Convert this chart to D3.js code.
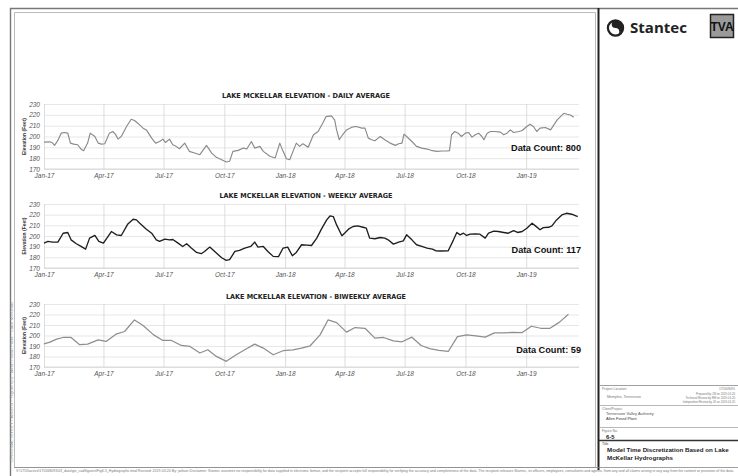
<!DOCTYPE html>
<html>
<head>
<meta charset="utf-8">
<script src="https://cdn.jsdelivr.net/npm/d3@7"></script>
<style>
  body { margin: 0; background: #fff; }
  svg { display: block; }
</style>
</head>
<body>
<svg id="sheet" width="738" height="476"></svg>
<script>
// ---- Lake McKellar elevation (ft), three averaging intervals ----
const dailyDates = ["2017-01-01","2017-01-10","2017-01-14","2017-01-17","2017-01-22","2017-01-27","2017-02-01","2017-02-06","2017-02-10","2017-02-15","2017-02-21","2017-02-26","2017-03-02","2017-03-08","2017-03-12","2017-03-19","2017-03-24","2017-03-29","2017-04-03","2017-04-10","2017-04-15","2017-04-19","2017-04-23","2017-04-28","2017-05-06","2017-05-13","2017-05-18","2017-05-23","2017-05-31","2017-06-05","2017-06-13","2017-06-19","2017-06-25","2017-06-30","2017-07-04","2017-07-10","2017-07-15","2017-07-20","2017-07-25","2017-08-02","2017-08-09","2017-08-17","2017-08-25","2017-09-04","2017-09-12","2017-09-19","2017-09-27","2017-10-04","2017-10-09","2017-10-14","2017-10-22","2017-10-30","2017-11-04","2017-11-11","2017-11-16","2017-11-24","2017-11-29","2017-12-09","2017-12-17","2017-12-24","2017-12-29","2018-01-03","2018-01-08","2018-01-13","2018-01-18","2018-01-23","2018-01-28","2018-02-05","2018-02-13","2018-02-20","2018-02-27","2018-03-04","2018-03-12","2018-03-17","2018-03-20","2018-03-24","2018-03-29","2018-04-04","2018-04-12","2018-04-19","2018-04-27","2018-05-02","2018-05-07","2018-05-12","2018-05-17","2018-05-22","2018-05-25","2018-06-01","2018-06-09","2018-06-17","2018-06-22","2018-06-27","2018-06-30","2018-07-04","2018-07-12","2018-07-19","2018-07-27","2018-08-04","2018-08-12","2018-08-19","2018-08-27","2018-09-03","2018-09-07","2018-09-10","2018-09-15","2018-09-20","2018-09-25","2018-10-01","2018-10-06","2018-10-11","2018-10-16","2018-10-21","2018-10-26","2018-10-29","2018-11-03","2018-11-08","2018-11-15","2018-11-23","2018-11-28","2018-12-03","2018-12-08","2018-12-13","2018-12-21","2018-12-26","2019-01-02","2019-01-07","2019-01-12","2019-01-17","2019-01-22","2019-01-30","2019-02-07","2019-02-12","2019-02-17","2019-02-22","2019-02-27","2019-03-04","2019-03-09","2019-03-14"];
const dailyElev = [194.8,195.1,193.9,191.8,196.4,203.1,203.7,203.1,193.9,193.0,192.4,188.4,186.9,193.9,203.1,200.0,193.9,193.0,193.3,203.1,204.6,202.2,197.6,200.0,209.2,215.9,214.7,212.3,207.7,206.1,198.5,193.9,195.4,197.6,194.5,197.6,192.4,190.9,188.7,193.9,186.3,184.7,183.2,191.8,184.7,180.8,178.6,176.5,177.1,186.3,187.2,189.3,188.4,195.4,189.3,190.9,186.3,181.7,180.2,193.9,186.3,179.5,178.6,186.3,193.9,190.9,193.3,190.0,201.6,204.6,212.3,218.4,219.0,215.3,206.1,197.0,201.6,206.1,208.6,209.2,207.7,207.7,198.5,197.0,196.1,198.5,200.0,197.0,193.9,191.8,193.3,193.9,202.2,200.0,195.4,190.9,189.3,188.4,186.9,186.3,186.6,186.6,186.9,201.6,204.6,203.1,200.0,203.1,203.7,199.4,201.6,203.1,200.0,197.0,203.1,204.6,204.6,204.0,201.6,203.1,206.1,203.7,204.6,205.5,209.2,211.3,209.2,204.6,207.7,208.3,206.1,210.7,215.3,218.4,221.4,220.5,219.9,217.8];

const weeklyDates = ["2017-01-01","2017-01-07","2017-01-14","2017-01-22","2017-01-30","2017-02-06","2017-02-11","2017-02-19","2017-02-26","2017-03-05","2017-03-11","2017-03-19","2017-03-25","2017-04-01","2017-04-13","2017-04-21","2017-04-28","2017-05-08","2017-05-16","2017-05-21","2017-05-26","2017-06-05","2017-06-13","2017-06-20","2017-06-25","2017-07-03","2017-07-10","2017-07-15","2017-07-23","2017-07-30","2017-08-05","2017-08-12","2017-08-20","2017-08-27","2017-09-01","2017-09-09","2017-09-19","2017-09-27","2017-10-04","2017-10-09","2017-10-17","2017-10-24","2017-11-01","2017-11-10","2017-11-16","2017-11-21","2017-11-29","2017-12-06","2017-12-14","2017-12-22","2017-12-29","2018-01-05","2018-01-12","2018-01-18","2018-01-26","2018-02-03","2018-02-10","2018-02-18","2018-02-25","2018-03-05","2018-03-10","2018-03-15","2018-03-20","2018-03-28","2018-04-01","2018-04-07","2018-04-14","2018-04-21","2018-04-29","2018-05-04","2018-05-09","2018-05-17","2018-05-25","2018-06-01","2018-06-06","2018-06-14","2018-06-22","2018-06-29","2018-07-04","2018-07-12","2018-07-19","2018-07-27","2018-08-04","2018-08-12","2018-08-17","2018-08-24","2018-09-05","2018-09-13","2018-09-18","2018-09-23","2018-09-28","2018-10-03","2018-10-08","2018-10-16","2018-10-23","2018-10-31","2018-11-05","2018-11-13","2018-11-20","2018-11-28","2018-12-05","2018-12-13","2018-12-19","2018-12-26","2019-01-02","2019-01-10","2019-01-15","2019-01-22","2019-01-27","2019-02-04","2019-02-09","2019-02-16","2019-02-24","2019-03-03","2019-03-11","2019-03-20"];
const weeklyElev = [193.3,194.9,194.3,194.3,202.6,203.3,196.4,192.7,190.2,187.7,198.0,200.5,194.9,193.3,204.2,201.1,200.5,211.3,215.7,215.1,212.0,206.4,202.6,196.4,194.9,197.0,196.4,196.7,193.3,190.2,192.7,188.7,184.6,183.4,185.5,189.6,184.0,179.6,177.2,177.8,185.5,186.5,188.7,190.2,194.3,189.6,190.2,185.5,180.9,180.6,188.7,189.6,181.5,184.6,191.8,191.5,191.1,198.0,206.4,215.1,218.8,218.2,210.4,200.2,202.6,206.4,208.9,209.5,208.2,207.3,198.0,197.4,198.6,198.0,196.4,192.4,194.3,195.5,201.1,196.4,191.8,190.2,188.7,187.7,186.2,185.9,186.2,196.4,203.3,201.1,202.6,200.5,201.7,202.0,201.7,198.0,202.6,204.5,204.2,203.3,202.6,205.1,203.3,204.2,207.3,212.0,209.5,205.8,207.9,208.2,209.5,215.1,219.7,221.3,220.4,218.2];

const biweeklyDates = ["2017-01-01","2017-01-10","2017-01-20","2017-01-30","2017-02-11","2017-02-24","2017-03-08","2017-03-24","2017-04-05","2017-04-20","2017-05-03","2017-05-18","2017-05-31","2017-06-16","2017-06-30","2017-07-13","2017-07-28","2017-08-10","2017-08-25","2017-09-06","2017-09-19","2017-10-04","2017-10-19","2017-11-01","2017-11-16","2017-11-29","2017-12-14","2017-12-29","2018-01-13","2018-01-26","2018-02-08","2018-02-23","2018-03-07","2018-03-20","2018-04-04","2018-04-17","2018-05-02","2018-05-17","2018-05-30","2018-06-14","2018-06-27","2018-07-12","2018-07-26","2018-08-08","2018-08-22","2018-09-05","2018-09-19","2018-10-03","2018-10-17","2018-10-31","2018-11-14","2018-11-28","2018-12-12","2018-12-26","2019-01-09","2019-01-23","2019-02-06","2019-02-20","2019-03-06"];
const biweeklyElev = [192.1,193.7,196.5,198.1,198.1,191.2,191.8,195.9,194.3,201.3,203.8,214.8,209.5,200.6,195.3,195.3,190.5,189.6,183.3,186.4,180.1,175.4,181.7,186.4,191.8,188.0,181.7,185.5,186.4,188.0,190.2,200.6,214.8,212.3,203.2,207.6,206.9,197.5,198.1,194.9,194.0,198.4,190.5,187.5,185.8,184.8,199.0,200.6,199.7,198.4,202.5,202.5,203.0,202.8,208.8,206.9,206.9,212.5,220.2];

// axis ticks
const quarterTicks = ["2017-01-01","2017-04-01","2017-07-01","2017-10-01","2018-01-01","2018-04-01","2018-07-01","2018-10-01","2019-01-01"];
const elevTicks = [170, 180, 190, 200, 210, 220, 230];
const elevDomain = [170, 230];

const chartTitles = [
  "LAKE MCKELLAR ELEVATION - DAILY AVERAGE",
  "LAKE MCKELLAR ELEVATION - WEEKLY AVERAGE",
  "LAKE MCKELLAR ELEVATION - BIWEEKLY AVERAGE"
];
const dataCounts = [800, 117, 59];

// ---- drawing ----
const parse = d3.utcParse("%Y-%m-%d");
const svg = d3.select("#sheet");

svg.append("rect").attr("width", 738).attr("height", 476).attr("fill", "#fff");

// shared time axis for the three panels
const x = d3.scaleUtc()
  .domain([parse("2017-01-01"), parse("2019-03-22")])
  .range([44, 579]);
const plotW = x.range()[1] - x.range()[0];

const panels = [
  { dates: dailyDates,    values: dailyElev,    top: 104, bottom: 169, titleX: 306, titleY: 97.5,  titleW: 168, countY: 150.5, stroke: "#8a8a8a", width: 1.15 },
  { dates: weeklyDates,   values: weeklyElev,   top: 204, bottom: 268, titleX: 306, titleY: 198,   titleW: 173, countY: 252.5, stroke: "#1e1e1e", width: 1.35 },
  { dates: biweeklyDates, values: biweeklyElev, top: 304, bottom: 367, titleX: 316, titleY: 298.5, titleW: 180, countY: 352.5, stroke: "#8e8e8e", width: 1.25 }
];

const fmt = d3.utcFormat("%b-%y");

panels.forEach((p, i) => {
  const y = d3.scaleLinear().domain(elevDomain).range([p.bottom, p.top]);
  const g = svg.append("g");

  // horizontal grid
  g.append("g")
    .attr("transform", `translate(${x.range()[0]},0)`)
    .call(d3.axisLeft(y).tickValues(elevTicks).tickSize(-plotW).tickFormat(""))
    .call(s => s.select(".domain").remove())
    .call(s => s.selectAll("line").attr("stroke", "#e1e1e1").attr("stroke-width", 0.8));

  // vertical grid at quarter starts
  g.append("g")
    .attr("transform", `translate(0,${p.bottom})`)
    .call(d3.axisBottom(x).tickValues(quarterTicks.map(parse)).tickSize(-(p.bottom - p.top)).tickFormat(""))
    .call(s => s.select(".domain").remove())
    .call(s => s.selectAll("line").attr("stroke", "#d4d4d4").attr("stroke-width", 0.8));

  // bottom baseline
  g.append("line")
    .attr("x1", x.range()[0]).attr("x2", x.range()[1])
    .attr("y1", p.bottom).attr("y2", p.bottom)
    .attr("stroke", "#cfcfcf").attr("stroke-width", 0.8);

  // x tick labels
  g.append("g")
    .attr("transform", `translate(0,${p.bottom})`)
    .call(d3.axisBottom(x).tickValues(quarterTicks.map(parse)).tickSize(0).tickPadding(4).tickFormat(fmt))
    .call(s => s.select(".domain").remove())
    .call(s => s.selectAll("text")
      .attr("font-family", "'Liberation Sans', Arial, sans-serif")
      .attr("font-style", "italic")
      .attr("font-size", 6.5)
      .attr("fill", "#555"));

  // y tick labels
  g.append("g")
    .attr("transform", `translate(${x.range()[0]},0)`)
    .call(d3.axisLeft(y).tickValues(elevTicks).tickSize(0).tickPadding(4))
    .call(s => s.select(".domain").remove())
    .call(s => s.selectAll("text")
      .attr("font-family", "'Liberation Sans', Arial, sans-serif")
      .attr("font-style", "italic")
      .attr("font-size", 6.5)
      .attr("fill", "#555"));

  // y axis title
  const midY = (p.top + p.bottom) / 2;
  g.append("text")
    .attr("transform", `translate(25.5,${midY}) rotate(-90)`)
    .attr("text-anchor", "middle")
    .attr("font-family", "'Liberation Sans', Arial, sans-serif")
    .attr("font-weight", "bold")
    .attr("font-size", 5.5)
    .attr("textLength", 37)
    .attr("lengthAdjust", "spacingAndGlyphs")
    .attr("fill", "#333")
    .text("Elevation (Feet)");

  // chart title
  g.append("text")
    .attr("x", p.titleX - p.titleW / 2).attr("y", p.titleY)
    .attr("font-family", "'DejaVu Sans', sans-serif")
    .attr("font-weight", "bold")
    .attr("font-size", 6.9)
    .attr("textLength", p.titleW)
    .attr("lengthAdjust", "spacingAndGlyphs")
    .attr("fill", "#222")
    .text(chartTitles[i]);

  // series line
  const pts = p.dates.map((d, k) => [parse(d), p.values[k]]);
  g.append("path")
    .datum(pts)
    .attr("fill", "none")
    .attr("stroke", p.stroke)
    .attr("stroke-width", p.width)
    .attr("stroke-linejoin", "round")
    .attr("d", d3.line().x(d => x(d[0])).y(d => y(d[1])));

  // record count
  g.append("text")
    .attr("x", 581).attr("y", p.countY)
    .attr("text-anchor", "end")
    .attr("font-family", "'Liberation Sans', Arial, sans-serif")
    .attr("font-weight", "bold")
    .attr("font-size", 9.2)
    .attr("fill", "#111")
    .text(`Data Count: ${dataCounts[i]}`);
});

// ---- sheet frame ----
const frame = svg.append("g").attr("fill", "none");
frame.append("path").attr("d", "M10.5,476 V8.5 H738").attr("stroke", "#777").attr("stroke-width", 1.4);
frame.append("path").attr("d", "M14.5,467.5 V12.5 H595.5 V467.5 Z").attr("stroke", "#aaa").attr("stroke-width", 0.8);
frame.append("line").attr("x1", 598.5).attr("x2", 598.5).attr("y1", 8).attr("y2", 470).attr("stroke", "#222").attr("stroke-width", 2);
frame.append("line").attr("x1", 14).attr("x2", 738).attr("y1", 467.5).attr("y2", 467.5).attr("stroke", "#888").attr("stroke-width", 0.8);

// margin note
svg.append("text")
  .attr("transform", "translate(12.6,462) rotate(-90)")
  .attr("font-family", "'Liberation Sans', Arial, sans-serif")
  .attr("font-size", 2.6)
  .attr("fill", "#999")
  .attr("textLength", 160)
  .attr("lengthAdjust", "spacingAndGlyphs")
  .text("ORIGINAL SHEET - ANSI B  ·  Figure 6-5  ·  Allen Fossil Plant  ·  Lake McKellar");

// disclaimer strip
svg.append("text")
  .attr("x", 16).attr("y", 471.5)
  .attr("font-family", "'Liberation Sans', Arial, sans-serif")
  .attr("font-size", 3.2)
  .attr("fill", "#777")
  .attr("textLength", 718)
  .attr("lengthAdjust", "spacingAndGlyphs")
  .text("V:\\1755\\active\\175568091\\03_data\\gis_cad\\figures\\Fig6-5_Hydrographs.mxd  Revised: 2019-03-20 By: jwilson  Disclaimer: Stantec assumes no responsibility for data supplied in electronic format, and the recipient accepts full responsibility for verifying the accuracy and completeness of the data. The recipient releases Stantec, its officers, employees, consultants and agents, from any and all claims arising in any way from the content or provision of the data.");

// ---- title block ----
const tb = svg.append("g");
// Stantec mark
tb.append("circle").attr("cx", 615.5).attr("cy", 28).attr("r", 7.6)
  .attr("fill", "none").attr("stroke", "#222").attr("stroke-width", 2.2);
tb.append("path")
  .attr("d", "M615.5,20.4 A7.6,7.6 0 0,1 615.5,35.6 A3.8,3.8 0 0,0 615.5,28 A3.8,3.8 0 0,1 615.5,20.4 Z")
  .attr("fill", "#222");
tb.append("text")
  .attr("x", 630).attr("y", 33)
  .attr("font-family", "'Open Sans', 'Noto Sans', sans-serif")
  .attr("font-weight", "bold")
  .attr("font-size", 14)
  .attr("textLength", 57)
  .attr("lengthAdjust", "spacingAndGlyphs")
  .attr("fill", "#222")
  .text("Stantec");
// TVA mark: framed grey tile with condensed dark lettering
tb.append("rect").attr("x", 710.5).attr("y", 14.5).attr("width", 23).attr("height", 23)
  .attr("fill", "#9a9a9a").attr("stroke", "#222").attr("stroke-width", 1.5);
tb.append("text")
  .attr("x", 722).attr("y", 31)
  .attr("text-anchor", "middle")
  .attr("font-family", "'Liberation Sans Narrow', 'Liberation Sans', sans-serif")
  .attr("font-weight", "bold")
  .attr("font-size", 12)
  .attr("fill", "#111")
  .text("TVA");

const rule = (y, w, c) => tb.append("line")
  .attr("x1", 599).attr("x2", 738).attr("y1", y).attr("y2", y)
  .attr("stroke", c).attr("stroke-width", w);
rule(385.5, 0.8, "#888");
rule(405.5, 0.7, "#999");
rule(427.5, 0.7, "#999");
rule(440.5, 1.4, "#333");

const note = (x, y, s, txt, opts = {}) => tb.append("text")
  .attr("x", x).attr("y", y)
  .attr("text-anchor", opts.anchor || "start")
  .attr("font-family", "'Liberation Sans', Arial, sans-serif")
  .attr("font-weight", opts.bold ? "bold" : "normal")
  .attr("font-size", s)
  .attr("fill", opts.fill || "#777")
  .text(txt);

note(602, 390, 3.4, "Project Location");
note(735, 390, 3.2, "175568091", { anchor: "end" });
note(607, 397.5, 3.6, "Memphis, Tennessee");
note(735, 395, 2.8, "Prepared by JW on 2019-03-20", { anchor: "end" });
note(735, 399, 2.8, "Technical Review by RM on 2019-03-20", { anchor: "end" });
note(735, 403, 2.8, "Independent Review by JK on 2019-03-20", { anchor: "end" });
note(602, 409.5, 3.4, "Client/Project");
note(606, 415, 4, "Tennessee Valley Authority", { fill: "#555" });
note(606, 420, 4, "Allen Fossil Plant", { fill: "#333" });
note(602, 431.5, 3.4, "Figure No.");
note(606, 438.5, 5.8, "6-5", { bold: true, fill: "#222" });
note(602, 444.5, 3.4, "Title", { fill: "#333" });
note(607, 452, 6.2, "Model Time Discretization Based on Lake", { bold: true, fill: "#222" });
note(607, 460, 6.2, "McKellar Hydrographs", { bold: true, fill: "#222" });
</script>
</body>
</html>
